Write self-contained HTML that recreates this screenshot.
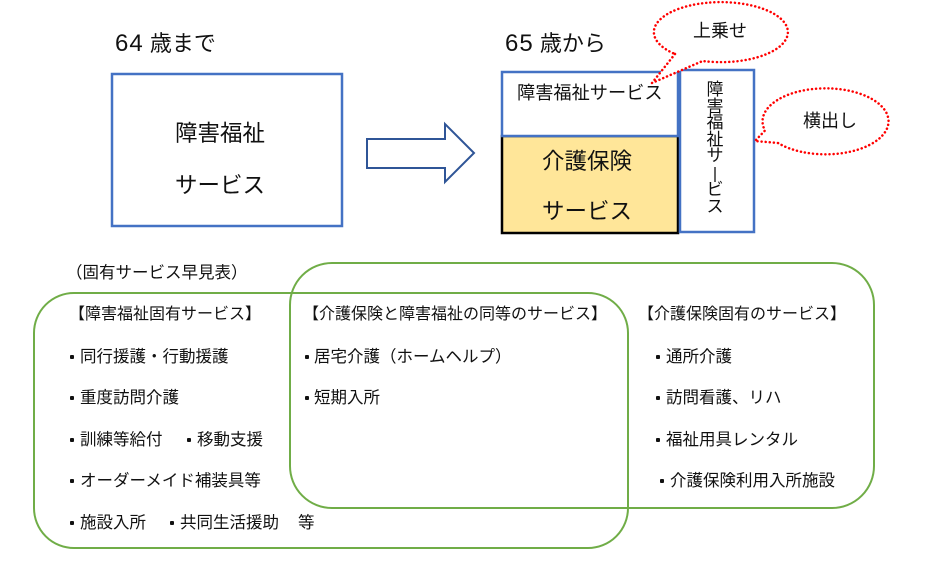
<!DOCTYPE html>
<html><head><meta charset="utf-8">
<style>
html,body{margin:0;padding:0;background:#fff;}
body{width:947px;height:571px;position:relative;overflow:hidden;font-family:"Liberation Sans","Noto Sans CJK JP",sans-serif;color:#111;}
svg{position:absolute;left:0;top:0;}
.t{position:absolute;white-space:nowrap;line-height:20px;height:20px;}
.s{font-size:16.5px;}
.h{font-size:16px;}
.d{position:absolute;width:4px;height:4px;background:#111;border-radius:1px;}
.v{position:absolute;left:705px;width:20px;height:17px;line-height:17px;font-size:17px;text-align:center;}
</style></head><body>
<svg width="947" height="571" viewBox="0 0 947 571">
  <rect x="112" y="74" width="230" height="152" fill="none" stroke="#4472C4" stroke-width="2.5"/>
  <polygon points="367,139 445,139 445,124 474,153 445,182 445,168 367,168" fill="#fff" stroke="#2F5597" stroke-width="2"/>
  <rect x="502" y="136" width="176" height="97" fill="#FFE699" stroke="#000" stroke-width="2.5"/>
  <rect x="502" y="72" width="176" height="64" fill="#fff" stroke="#4472C4" stroke-width="2.5"/>
  <rect x="680" y="70" width="74" height="162" fill="#fff" stroke="#4472C4" stroke-width="2.5"/>
  <rect x="34" y="293" width="594" height="255" rx="40" ry="40" fill="none" stroke="#70AD47" stroke-width="2"/>
  <rect x="290" y="263" width="584" height="245" rx="42" ry="42" fill="none" stroke="#70AD47" stroke-width="2"/>
  <path d="M675,54 L652,83 L702.6,61 A67 30 0 1 0 675,54 Z" fill="#fff" stroke="#FF0000" stroke-width="2.5" stroke-dasharray="0.1 4" stroke-linecap="round"/>
  <path d="M778,143 L755,141 L765,130.5 A63 33 0 1 1 778,143 Z" fill="#fff" stroke="#FF0000" stroke-width="2.5" stroke-dasharray="0.1 4" stroke-linecap="round"/>
  <line x1="715" y1="167" x2="715" y2="182" stroke="#111" stroke-width="1.3"/>
</svg>

<div class="t" style="left:115px;top:31px;height:26px;line-height:26px;font-size:22px;"><span style="font-size:24px;letter-spacing:1px;">64</span> 歳まで</div>
<div class="t" style="left:505px;top:31px;height:26px;line-height:26px;font-size:22px;"><span style="font-size:24px;letter-spacing:1px;">65</span> 歳から</div>

<div class="t" style="left:175px;top:121px;height:26px;line-height:26px;font-size:22.5px;">障害福祉</div>
<div class="t" style="left:175px;top:173px;height:26px;line-height:26px;font-size:22.5px;">サービス</div>

<div class="t" style="left:517px;top:82px;height:22px;line-height:22px;font-size:18.2px;">障害福祉サービス</div>
<div class="t" style="left:542px;top:149px;height:26px;line-height:26px;font-size:22.5px;">介護保険</div>
<div class="t" style="left:542px;top:199px;height:26px;line-height:26px;font-size:22.5px;">サービス</div>

<div class="v" style="top:81px;">障</div>
<div class="v" style="top:97.6px;">害</div>
<div class="v" style="top:114.2px;">福</div>
<div class="v" style="top:130.8px;">祉</div>
<div class="v" style="top:147.4px;">サ</div>
<div class="v" style="top:181px;">ビ</div>
<div class="v" style="top:197.5px;">ス</div>

<div class="t" style="left:693px;top:20px;height:22px;line-height:22px;font-size:18px;">上乗せ</div>
<div class="t" style="left:803px;top:110px;height:22px;line-height:22px;font-size:18px;">横出し</div>

<div class="t s" style="left:66px;top:263px;">（固有サービス早見表）</div>

<div class="t h" style="left:69px;top:305px;">【障害福祉固有サービス】</div>
<div class="t h" style="left:303px;top:305px;">【介護保険と障害福祉の同等のサービス】</div>
<div class="t h" style="left:638px;top:305px;">【介護保険固有のサービス】</div>

<div class="d" style="left:70px;top:355px;"></div><div class="t s" style="left:80px;top:347px;">同行援護・行動援護</div>
<div class="d" style="left:70px;top:396px;"></div><div class="t s" style="left:80px;top:388px;">重度訪問介護</div>
<div class="d" style="left:70px;top:438px;"></div><div class="t s" style="left:80px;top:430px;">訓練等給付</div>
<div class="d" style="left:187px;top:438px;"></div><div class="t s" style="left:197px;top:430px;">移動支援</div>
<div class="d" style="left:70px;top:479px;"></div><div class="t s" style="left:80px;top:471px;">オーダーメイド補装具等</div>
<div class="d" style="left:70px;top:521px;"></div><div class="t s" style="left:80px;top:513px;">施設入所</div>
<div class="d" style="left:170px;top:521px;"></div><div class="t s" style="left:180px;top:513px;">共同生活援助</div>
<div class="t s" style="left:298px;top:513px;">等</div>

<div class="d" style="left:305px;top:355px;"></div><div class="t s" style="left:314px;top:347px;">居宅介護（ホームヘルプ）</div>
<div class="d" style="left:305px;top:396px;"></div><div class="t s" style="left:314px;top:388px;">短期入所</div>

<div class="d" style="left:656px;top:355px;"></div><div class="t s" style="left:666px;top:347px;">通所介護</div>
<div class="d" style="left:656px;top:396px;"></div><div class="t s" style="left:666px;top:388px;">訪問看護、リハ</div>
<div class="d" style="left:656px;top:438px;"></div><div class="t s" style="left:666px;top:430px;">福祉用具レンタル</div>
<div class="d" style="left:660px;top:479px;"></div><div class="t s" style="left:670px;top:471px;">介護保険利用入所施設</div>
</body></html>
